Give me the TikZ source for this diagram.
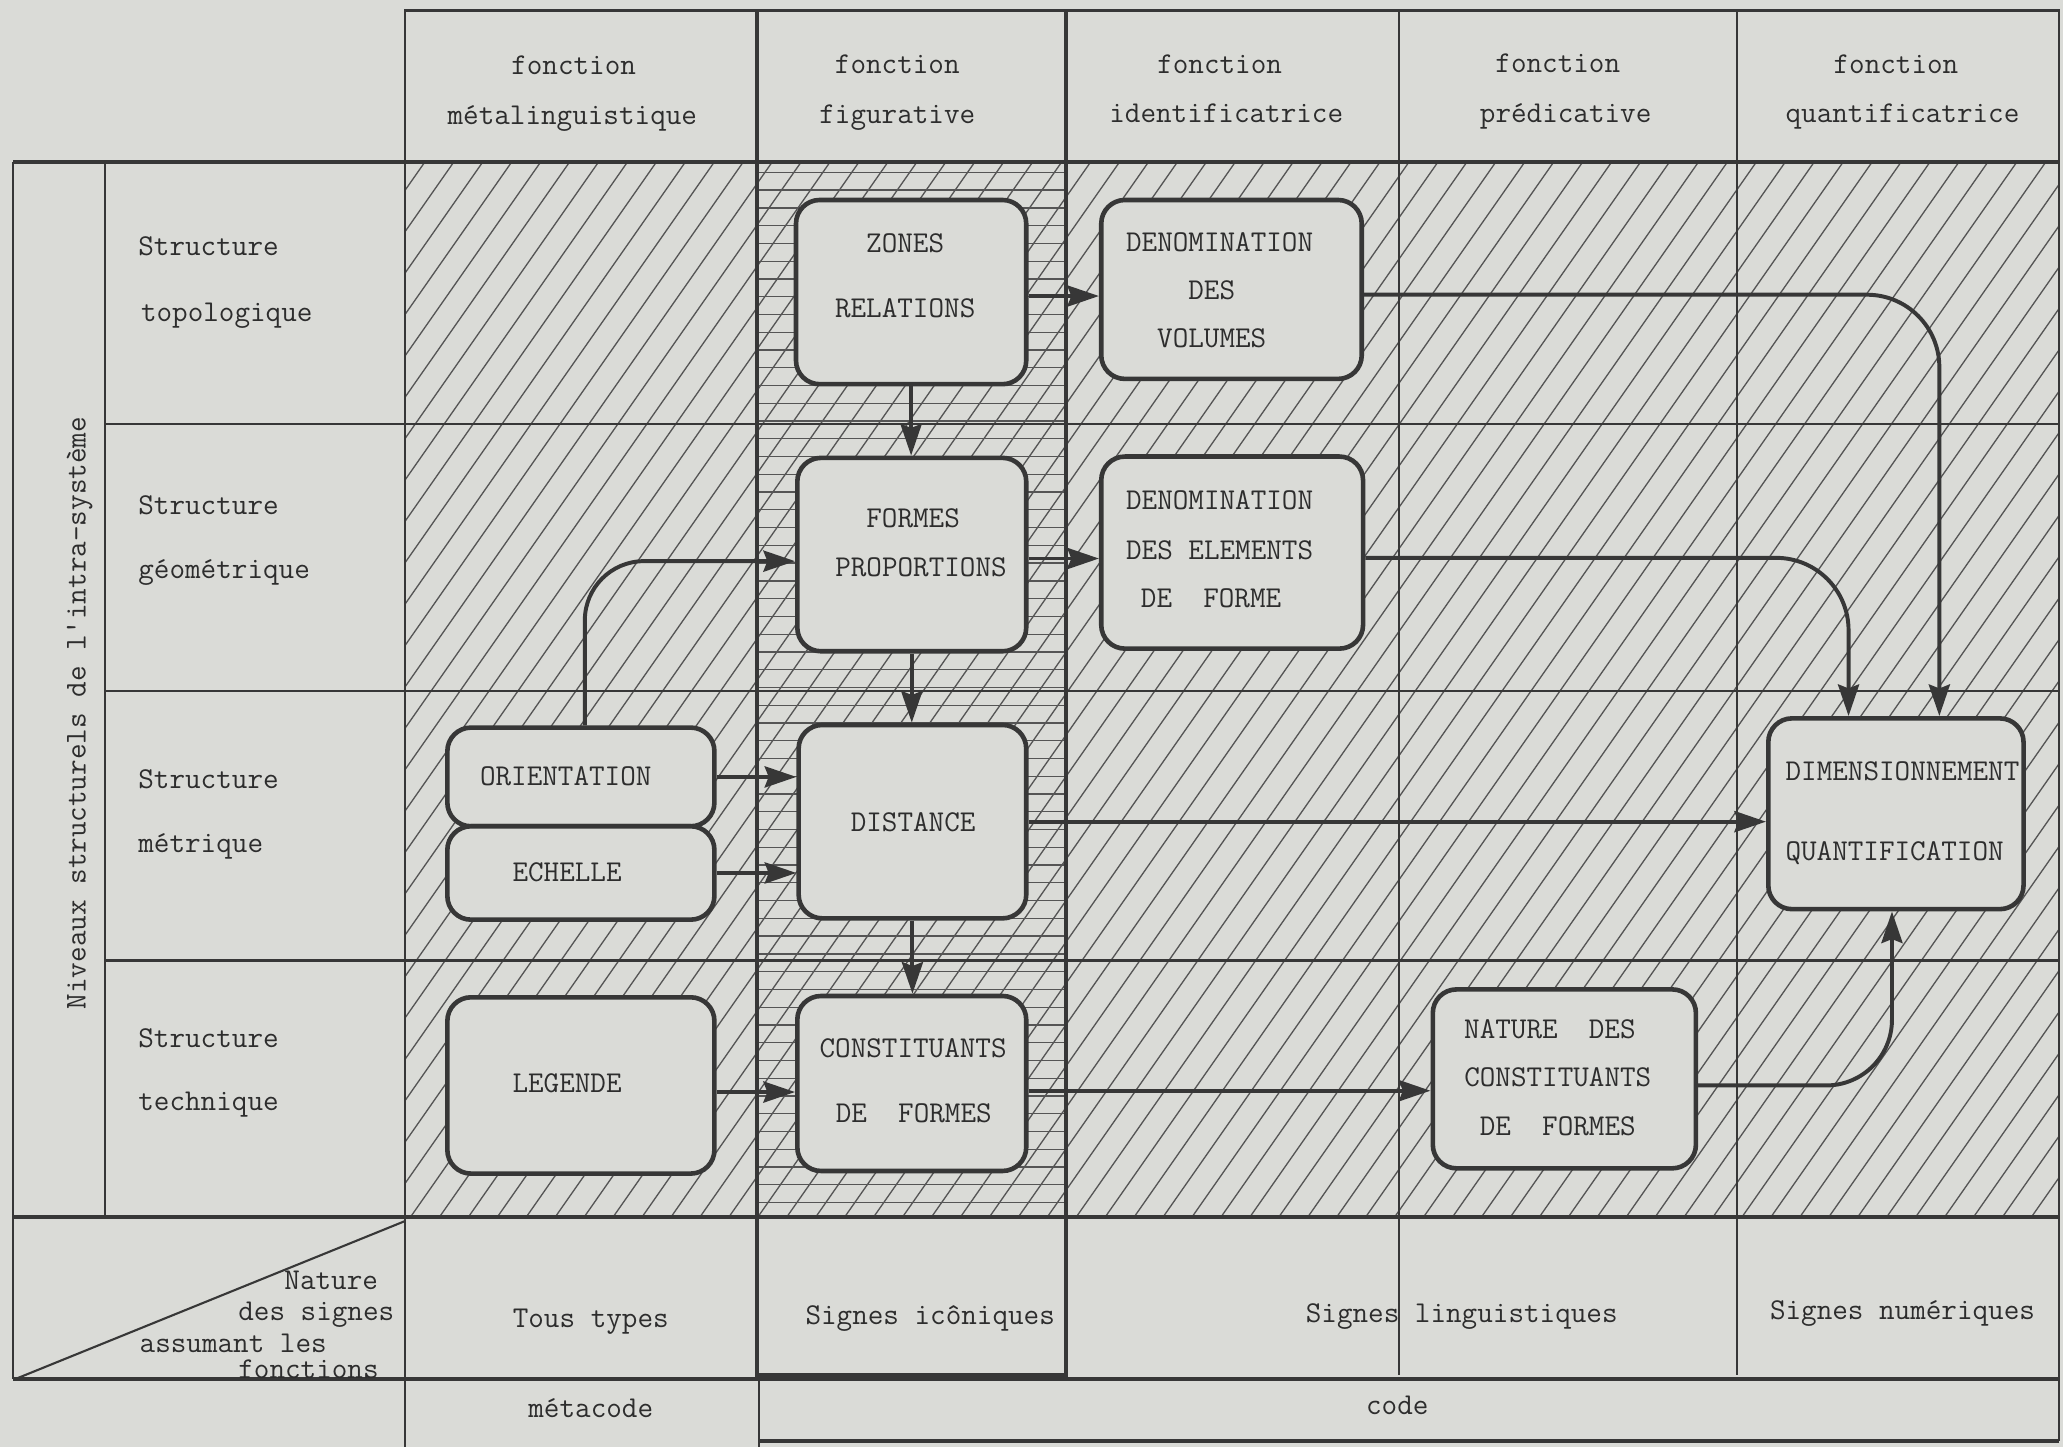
\documentclass[tikz,border=0pt]{standalone}
\usetikzlibrary{arrows.meta,calc}
\definecolor{paper}{RGB}{218,219,215}
\definecolor{ink}{RGB}{55,55,55}
\definecolor{tink}{RGB}{45,45,45}
\definecolor{hink}{RGB}{85,85,85}
\begin{document}
\begin{tikzpicture}[x=1pt,y=-1pt,
  every node/.style={font=\fontsize{23}{28}\selectfont\ttfamily, text=tink},
  txt/.style={inner sep=0pt, text height=14pt, text depth=0pt},
  box/.style={draw=ink, line width=3.5pt, fill=paper, rounded corners=18pt, inner sep=0pt},
  arr/.style={draw=ink, line width=3pt, -{Stealth[length=24pt,width=16pt,inset=3pt]}},
  thinline/.style={draw=ink, line width=1.6pt},
  thickline/.style={draw=ink, line width=3pt},
  hatchline/.style={draw=hink, line width=1pt}]
\fill[paper] (0,0) rectangle (1568,1100);
\useasboundingbox (0,0) rectangle (1568,1100);

% hatching
\begin{scope}
\clip (308,123) rectangle (1565,925);
\foreach \i in {-260,-238,...,1580} \draw[hatchline] (\i,925) -- ++(561,-802);
\end{scope}
\begin{scope}
\clip (575,123) rectangle (810,925);
\foreach \j in {131,144.5,...,925} \draw[hatchline] (575,\j) -- (810,\j);
\end{scope}

% grid
\draw[thinline] (308,8) rectangle (1565,123);
\draw[thinline] (1063,8) -- (1063,1045);
\draw[thinline] (1320,8) -- (1320,1045);
\draw[thinline] (1565,8) -- (1565,1095);
\draw[thinline] (308,123) -- (308,1100);
\draw[thinline] (577,1045) -- (577,1100);
\draw[thinline] (10,123) -- (10,1048);
\draw[thinline] (80,123) -- (80,925);
\foreach \r in {322,525,730} \draw[thinline] (80,\r) -- (1565,\r);
\draw[thickline] (10,123) -- (1565,123);
\draw[thickline] (10,925) -- (1565,925);
\draw[thickline] (10,1048) -- (1565,1048);
\draw[thickline] (577,1095) -- (1565,1095);
\draw[thickline] (575,8) rectangle (810,1045);
\draw[thickline] (308,8) -- (1565,8);
\draw[thinline] (12,1048) -- (308,928);

% header texts
\node[txt] (h1a) at (436,50) {fonction};
\node[txt] (h1b) at (435,88) {métalinguistique};
\node[txt] (h2a) at (682,49) {fonction};
\node[txt] (h2b) at (682,87) {figurative};
\node[txt] (h3a) at (927,49) {fonction};
\node[txt] (h3b) at (932,86) {identificatrice};
\node[txt] (h4a) at (1184,48) {fonction};
\node[txt] (h4b) at (1190,86) {prédicative};
\node[txt] (h5a) at (1441,49) {fonction};
\node[txt] (h5b) at (1446,86) {quantificatrice};

% row labels
\node[txt,anchor=west] (r1a) at (105,187) {Structure};
\node[txt,anchor=west] (r1b) at (107,237) {topologique};
\node[txt,anchor=west] (r2a) at (105,384) {Structure};
\node[txt,anchor=west] (r2b) at (105,433) {géométrique};
\node[txt,anchor=west] (r3a) at (105,592) {Structure};
\node[txt,anchor=west] (r3b) at (105,641) {métrique};
\node[txt,anchor=west] (r4a) at (105,789) {Structure};
\node[txt,anchor=west] (r4b) at (105,837) {technique};
\node[txt,rotate=90] (vlab) at (58,542) {Niveaux structurels de l'intra-système};

% bottom texts
\node[txt,anchor=west] (n1) at (216,973) {Nature};
\node[txt,anchor=west] (n2) at (181,997) {des signes};
\node[txt,anchor=west] (n3) at (106,1021) {assumant les};
\node[txt,anchor=west] (n4) at (181,1041) {fonctions};
\node[txt] (b1) at (449,1002) {Tous types};
\node[txt] (b2) at (707,1000) {Signes icôniques};
\node[txt] (b3) at (1111,998) {Signes linguistiques};
\node[txt] (b4) at (1446,996) {Signes numériques};
\node[txt] (c1) at (449,1070) {métacode};
\node[txt] (c2) at (1062,1068) {code};

% boxes
\node[box, minimum width=175pt, minimum height=140pt] (zr) at (692.5,222) {};
\node[box, minimum width=198pt, minimum height=136pt] (dv) at (936,220) {};
\node[box, minimum width=174pt, minimum height=147pt] (fp) at (693,421.5) {};
\node[box, minimum width=199pt, minimum height=146pt] (de) at (936.5,420) {};
\node[box, minimum width=203pt, minimum height=75pt] (ori) at (441.5,590.5) {};
\node[box, minimum width=203pt, minimum height=71pt] (ech) at (441.5,663.5) {};
\node[box, minimum width=173pt, minimum height=147pt] (dist) at (693.5,624.5) {};
\node[box, minimum width=203pt, minimum height=134pt] (leg) at (441.5,825) {};
\node[box, minimum width=174pt, minimum height=133pt] (cf) at (693,823.5) {};
\node[box, minimum width=200pt, minimum height=136pt] (nc) at (1189,820) {};
\node[box, minimum width=194pt, minimum height=145pt] (dq) at (1441,618.5) {};

% box texts
\node[txt] (t1) at (688,185) {ZONES};
\node[txt] (t2) at (688,234) {RELATIONS};
\node[txt] (t3) at (927,184) {DENOMINATION};
\node[txt] (t4) at (921,221) {DES};
\node[txt] (t5) at (921,257) {VOLUMES};
\node[txt] (t6) at (694,394) {FORMES};
\node[txt] (t7) at (700,431) {PROPORTIONS};
\node[txt] (t8) at (927,380) {DENOMINATION};
\node[txt] (t9) at (927,418) {DES ELEMENTS};
\node[txt] (t10) at (920.5,455) {DE~~FORME};
\node[txt] (t11) at (430,590) {ORIENTATION};
\node[txt] (t12) at (431,663) {ECHELLE};
\node[txt] (t13) at (694,625) {DISTANCE};
\node[txt] (t14) at (431,823) {LEGENDE};
\node[txt] (t15) at (694,797) {CONSTITUANTS};
\node[txt] (t16) at (694.5,846) {DE~~FORMES};
\node[txt] (t17) at (1178,782) {NATURE~~DES};
\node[txt] (t18) at (1184,819) {CONSTITUANTS};
\node[txt] (t19) at (1184,856) {DE~~FORMES};
\node[txt] (t20) at (1446,586) {DIMENSIONNEMENT};
\node[txt] (t21) at (1440,647) {QUANTIFICATION};

% connectors
\coordinate (dqa) at ($(dq.north)+(33,0)$);
\coordinate (dqb) at ($(dq.north)+(-36,0)$);
\coordinate (oriup) at ($(ori.north)+(3,0)$);
\coordinate (fpin) at ($(fp.west)+(0,5)$);
\coordinate (zrout) at ($(zr.east)+(0,3)$);
\coordinate (dvout) at ($(dv.east)+(0,4)$);
\coordinate (fpout) at ($(fp.east)+(0,3)$);
\coordinate (deout) at ($(de.east)+(0,4)$);
\coordinate (legout) at ($(leg.east)+(0,5)$);
\coordinate (cfout) at ($(cf.east)+(0,5.5)$);
\coordinate (ncout) at ($(nc.east)+(0,5)$);
\coordinate (dqbot) at ($(dq.south)+(-3,0)$);
\draw[arr] (zrout) -- (zrout -| dv.west);
\draw[arr] (zr.south) -- (zr.south |- fp.north);
\draw[arr, rounded corners=55pt] (dvout) -| (dqa);
\draw[arr] (fpout) -- (fpout -| de.west);
\draw[arr, rounded corners=55pt] (deout) -| (dqb);
\draw[arr] (fp.south) -- (fp.south |- dist.north);
\draw[arr, rounded corners=45pt] (oriup) |- (fpin);
\draw[arr] (ori.east) -- (ori.east -| dist.west);
\draw[arr] (ech.east) -- (ech.east -| dist.west);
\draw[arr] (dist.east) -- (dist.east -| dq.west);
\draw[arr] (dist.south) -- (dist.south |- cf.north);
\draw[arr] (legout) -- (legout -| cf.west);
\draw[arr] (cfout) -- (cfout -| nc.west);
\draw[arr, rounded corners=50pt] (ncout) -| (dqbot);
\end{tikzpicture}
\end{document}
